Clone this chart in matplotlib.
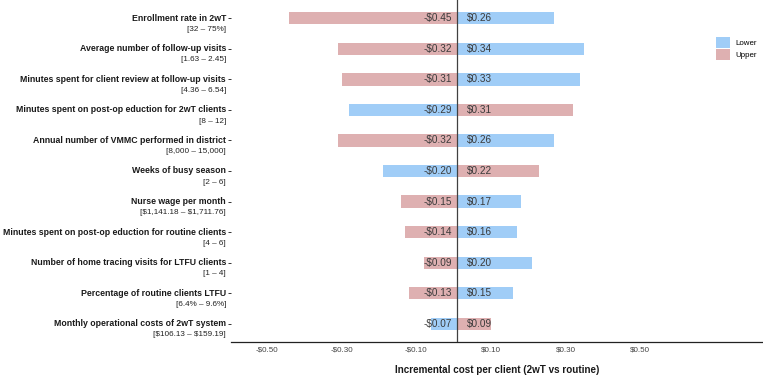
import matplotlib
matplotlib.use("Agg")
import matplotlib.pyplot as plt
from matplotlib.patches import Patch

plt.rcParams['font.family'] = ['Liberation Sans', 'DejaVu Sans']
plt.rcParams['text.parse_math'] = False

# ---- data ----
params = [
    "Enrollment rate in 2wT",
    "Average number of follow-up visits",
    "Minutes spent for client review at follow-up visits",
    "Minutes spent on post-op eduction for 2wT clients",
    "Annual number of VMMC performed in district",
    "Weeks of busy season",
    "Nurse wage per month",
    "Minutes spent on post-op eduction for routine clients",
    "Number of home tracing visits for LTFU clients",
    "Percentage of routine clients LTFU",
    "Monthly operational costs of 2wT system",
]
ranges = [
    "[32 \u2013 75%]",
    "[1.63 \u2013 2.45]",
    "[4.36 \u2013 6.54]",
    "[8 \u2013 12]",
    "[8,000 \u2013 15,000]",
    "[2 \u2013 6]",
    "[$1,141.18 \u2013 $1,711.76]",
    "[4 \u2013 6]",
    "[1 \u2013 4]",
    "[6.4% \u2013 9.6%]",
    "[$106.13 \u2013 $159.19]",
]
neg_values = [-0.45, -0.32, -0.31, -0.29, -0.32, -0.20, -0.15, -0.14, -0.09, -0.13, -0.07]
pos_values = [0.26, 0.34, 0.33, 0.31, 0.26, 0.22, 0.17, 0.16, 0.20, 0.15, 0.09]
neg_bound = ["Upper", "Upper", "Upper", "Lower", "Upper", "Lower", "Upper", "Upper", "Upper", "Upper", "Lower"]
base_value = 0.01
x_ticks = [-0.5, -0.3, -0.1, 0.1, 0.3, 0.5]
x_ticklabels = ["-$0.50", "-$0.30", "-$0.10", "$0.10", "$0.30", "$0.50"]
bound_labels = ["Lower", "Upper"]

colors = {"Lower": "#A0CDF7", "Upper": "#DEB0B1"}

W, H = 763, 377
fig = plt.figure(figsize=(W / 100, H / 100), dpi=100)
L, R, T, B = 231, 763, 0, 342
ax = fig.add_axes([L / W, 1 - B / H, (R - L) / W, (B - T) / H])

px_per_unit = 373.0
zero_px = 453.5
ax.set_xlim((L - zero_px) / px_per_unit, (R - zero_px) / px_per_unit)
ax.set_ylim(len(params) - 1 + 0.6, -0.6)

ys = list(range(len(params)))
other = {"Upper": "Lower", "Lower": "Upper"}
for i in ys:
    nb = neg_bound[i]
    pb = other[nb]
    ax.barh(i, neg_values[i], left=base_value, height=0.4, color=colors[nb], zorder=2)
    ax.barh(i, pos_values[i], left=base_value, height=0.4, color=colors[pb], zorder=2)
    ax.annotate(f"-${abs(neg_values[i]):.2f}", xy=(base_value, i), xytext=(-4, 0),
                textcoords="offset points", ha="right", va="center",
                fontsize=7.2, color="#3a3a3a", zorder=3)
    ax.annotate(f"${pos_values[i]:.2f}", xy=(base_value, i), xytext=(7.2, 0),
                textcoords="offset points", ha="left", va="center",
                fontsize=7.2, color="#3a3a3a", zorder=3)
    # y labels
    ax.annotate(params[i], xy=(0, i), xycoords=("axes fraction", "data"),
                xytext=(-3.6, 0), textcoords="offset points", ha="right", va="center",
                fontsize=6.35, fontweight="bold", color="#1a1a1a")
    ax.annotate(ranges[i], xy=(0, i), xycoords=("axes fraction", "data"),
                xytext=(-3.6, -8), textcoords="offset points", ha="right", va="center",
                fontsize=5.9, color="#222222")

ax.axvline(base_value, color="#404040", lw=0.9, zorder=4)

ax.set_yticks(ys)
ax.set_yticklabels([])
ax.tick_params(axis="y", length=2.2, width=0.7, color="#333333")
ax.set_xticks(x_ticks)
ax.set_xticklabels(x_ticklabels)
ax.tick_params(axis="x", length=0, pad=3.6, labelsize=5.8, labelcolor="#444444")

for s in ["top", "right", "left"]:
    ax.spines[s].set_visible(False)
ax.spines["bottom"].set_linewidth(0.9)
ax.spines["bottom"].set_color("#222222")

ax.set_xlabel("Incremental cost per client (2wT vs routine)", fontsize=7.1,
              fontweight="bold", color="#1a1a1a", labelpad=8)

handles = [Patch(facecolor=colors[b], edgecolor="none", label=b) for b in bound_labels]
leg = ax.legend(handles=handles, loc="upper left",
                bbox_to_anchor=(714 / W, 1 - 35 / H), bbox_transform=fig.transFigure,
                frameon=False, fontsize=5.7, handlelength=1.83, handleheight=1.83,
                labelspacing=0.1, handletextpad=0.7, borderpad=0.2, borderaxespad=0)

fig.savefig("out.png", dpi=100)
